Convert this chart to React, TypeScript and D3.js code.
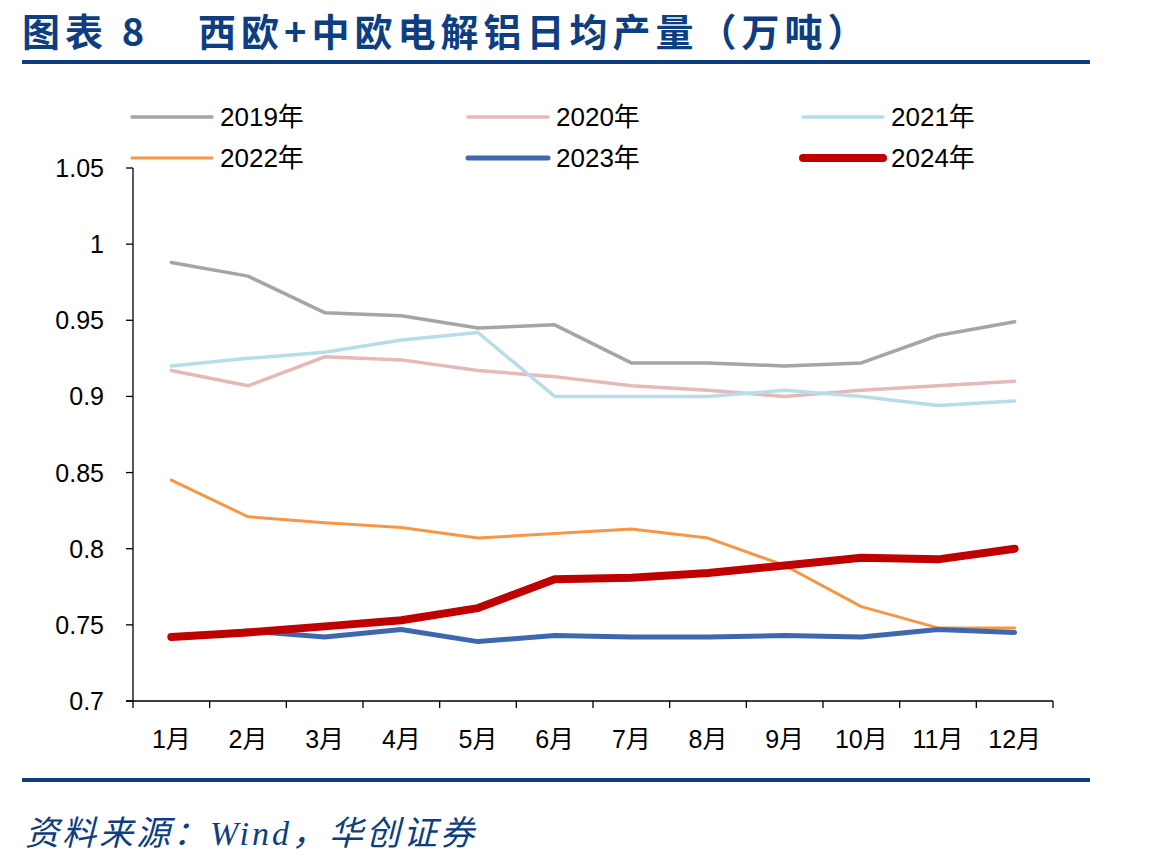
import React from "react";
import * as d3 from "d3";

const months = ["1月", "2月", "3月", "4月", "5月", "6月", "7月", "8月", "9月", "10月", "11月", "12月"];
const yTicks = [0.7, 0.75, 0.8, 0.85, 0.9, 0.95, 1, 1.05];

const s2019 = [0.988, 0.979, 0.955, 0.953, 0.945, 0.947, 0.922, 0.922, 0.920, 0.922, 0.940, 0.949];
const s2020 = [0.917, 0.907, 0.926, 0.924, 0.917, 0.913, 0.907, 0.904, 0.900, 0.904, 0.907, 0.910];
const s2021 = [0.920, 0.925, 0.929, 0.937, 0.942, 0.900, 0.900, 0.900, 0.904, 0.900, 0.894, 0.897];
const s2022 = [0.845, 0.821, 0.817, 0.814, 0.807, 0.810, 0.813, 0.807, 0.789, 0.762, 0.748, 0.748];
const s2023 = [0.742, 0.746, 0.742, 0.747, 0.739, 0.743, 0.742, 0.742, 0.743, 0.742, 0.747, 0.745];
const s2024 = [0.742, 0.745, 0.749, 0.753, 0.761, 0.780, 0.781, 0.784, 0.789, 0.794, 0.793, 0.800];

const seriesNames = ["2019年", "2020年", "2021年", "2022年", "2023年", "2024年"];
const seriesValues = [s2019, s2020, s2021, s2022, s2023, s2024];
const seriesColors = ["#A5A5A5", "#E6B9B8", "#B7DEE8", "#F79646", "#3F67AE", "#C00000"];
const seriesWidths = [3.5, 3.5, 3.5, 3, 5, 8];

export default function App() {
  const W = 1149, H = 866;
  const left = 133, right = 1053, top = 168, bottom = 701;
  const x = d3.scaleBand<string>().domain(months).range([left, right]).padding(0);
  const y = d3.scaleLinear().domain([0.7, 1.05]).range([bottom, top]);
  const line = d3.line<number>()
    .x((_, i) => (x(months[i]) as number) + x.bandwidth() / 2)
    .y((v) => y(v));

  const legendCols = [130, 466, 801];
  const legendRows = [117, 158];
  const font = "Arial, 'Liberation Sans', 'Noto Sans CJK SC', sans-serif";
  const blue = "#0E3E82";

  return (
    <svg width={W} height={H} style={{ position: "absolute", left: 0, top: 0, background: "#fff" }}>
      <rect x={0} y={0} width={W} height={H} fill="#fff" />
      <text x={22} y={46} fill={blue} fontSize={38} fontWeight="bold" letterSpacing={5}
        fontFamily="'Noto Sans CJK SC', serif">图表 8</text>
      <text x={198} y={46} fill={blue} fontSize={38} fontWeight="bold" letterSpacing={5}
        fontFamily="'Noto Sans CJK SC', serif">西欧+中欧电解铝日均产量（万吨）</text>
      <rect x={22} y={60} width={1068} height={4} fill={blue} />

      {seriesNames.map((name, i) => {
        const cx = legendCols[i % 3];
        const cy = legendRows[Math.floor(i / 3)];
        return (
          <g key={name}>
            <line x1={cx + 2} x2={cx + 82} y1={cy} y2={cy} stroke={seriesColors[i]}
              strokeWidth={seriesWidths[i]} strokeLinecap="round" />
            <text x={cx + 90} y={cy + 9} fontSize={26} fontFamily={font} fill="#000">{name}</text>
          </g>
        );
      })}

      {/* y axis */}
      <line x1={left} x2={left} y1={top} y2={bottom} stroke="#000" strokeWidth={1.3} />
      {yTicks.map((t) => (
        <g key={t}>
          <line x1={left - 7} x2={left} y1={y(t)} y2={y(t)} stroke="#000" strokeWidth={1.3} />
          <text x={104} y={y(t) + 9} textAnchor="end" fontSize={25} fontFamily={font} fill="#000">{String(t)}</text>
        </g>
      ))}

      {/* x axis */}
      <line x1={left - 7} x2={right} y1={bottom} y2={bottom} stroke="#000" strokeWidth={1.3} />
      {[...months.map((m) => x(m) as number), right].map((px, i) => (
        <line key={i} x1={px} x2={px} y1={bottom} y2={bottom + 7} stroke="#000" strokeWidth={1.3} />
      ))}
      {months.map((m) => (
        <text key={m} x={(x(m) as number) + x.bandwidth() / 2} y={bottom + 47} textAnchor="middle"
          fontSize={25} fontFamily={font} fill="#000">{m}</text>
      ))}

      {seriesValues.map((vals, i) => (
        <path key={i} d={line(vals) || ""} fill="none" stroke={seriesColors[i]}
          strokeWidth={seriesWidths[i]} strokeLinejoin="round" strokeLinecap="round" />
      ))}

      <rect x={22} y={778} width={1068} height={4} fill={blue} />
      <text x={25} y={845} fill={blue} fontSize={34} fontStyle="italic" letterSpacing={3}
        fontFamily="'Liberation Serif', 'Noto Sans CJK SC', serif">资料来源：Wind，华创证券</text>
    </svg>
  );
}
